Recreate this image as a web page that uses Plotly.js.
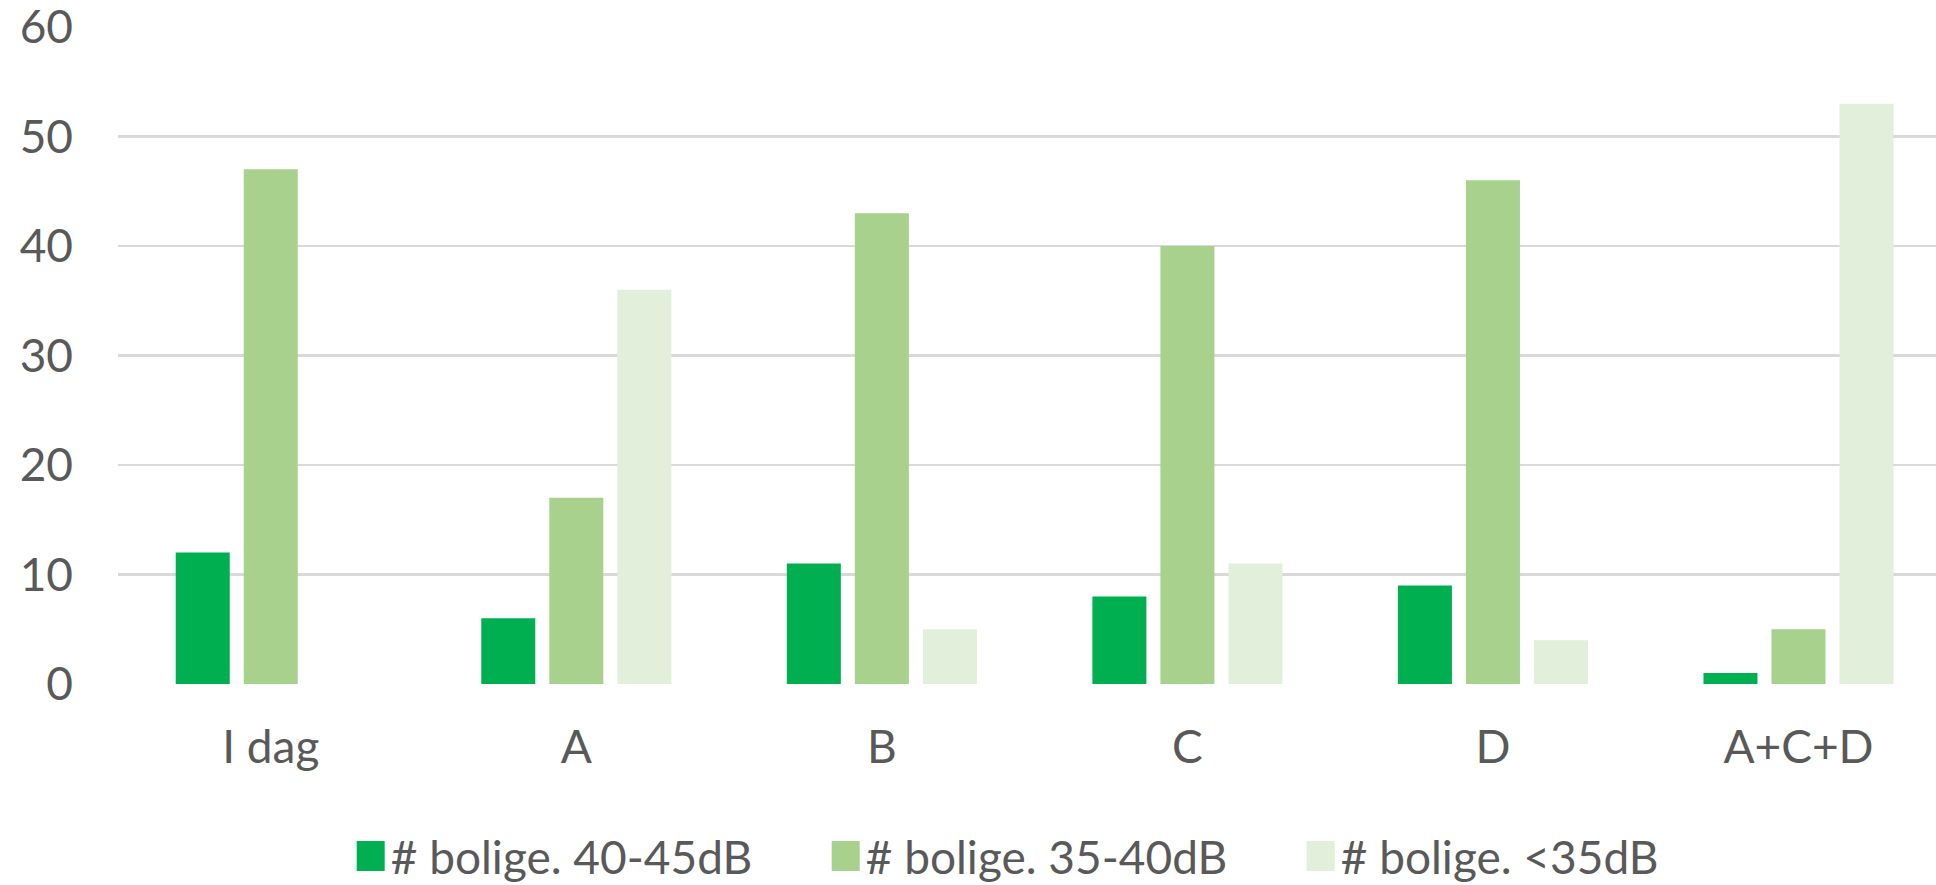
<!DOCTYPE html>
<html>
<head>
<meta charset="utf-8">
<script src="https://cdn.plot.ly/plotly-3.0.1.min.js"></script>
<style>
  html, body { margin: 0; padding: 0; background: #ffffff; overflow: hidden; }
  #chart { width: 1936px; height: 885px; }
</style>
</head>
<body>
<div id="chart"></div>
<script>
const categories = ["I dag", "A", "B", "C", "D", "A+C+D"];
const seriesNames = ["# bolige. 40-45dB", "# bolige. 35-40dB", "# bolige. <35dB"];
const values4045 = [12, 6, 11, 8, 9, 1];
const values3540 = [47, 17, 43, 40, 46, 5];
const valuesUnder35 = [0, 36, 5, 11, 4, 53];
const yTicks = [0, 10, 20, 30, 40, 50, 60];

const colors = ["#00B050", "#A9D18E", "#E2EFDA"];
const seriesValues = [values4045, values3540, valuesUnder35];

const traces = seriesValues.map((vals, i) => ({
  type: "bar",
  name: seriesNames[i],
  x: categories,
  y: vals,
  marker: { color: colors[i], line: { width: 0 } },
  hoverinfo: "x+y+name"
}));

const fontFamily = "Lato, 'Open Sans', sans-serif";

const layout = {
  width: 1936,
  height: 885,
  paper_bgcolor: "#ffffff",
  plot_bgcolor: "#ffffff",
  margin: { l: 118, r: 0, t: 27, b: 201, pad: 0, autoexpand: false },
  barmode: "group",
  bargap: 0.332,
  bargroupgap: 0.206,
  showlegend: true,
  legend: {
    orientation: "h",
    x: 0.128,
    xanchor: "left",
    y: -0.262,
    yanchor: "middle",
    font: { family: fontFamily, size: 46, color: "#595959" },
    itemwidth: 30,
    entrywidth: 430,
    entrywidthmode: "pixels",
    traceorder: "normal"
  },
  xaxis: {
    type: "category",
    range: [-0.5, 5.45],
    showgrid: false,
    zeroline: false,
    showline: false,
    ticks: "",
    ticklabelstandoff: 32,
    automargin: false,
    tickfont: { family: fontFamily, size: 46, color: "#595959" }
  },
  yaxis: {
    range: [0, 60],
    tickvals: yTicks,
    ticktext: yTicks.map(String),
    showgrid: true,
    gridcolor: "#D9D9D9",
    gridwidth: 2.5,
    zeroline: false,
    showline: false,
    ticks: "",
    ticklabelstandoff: 44,
    ticklabeloverflow: "allow",
    automargin: false,
    tickfont: { family: fontFamily, size: 46, color: "#595959" }
  },
  font: { family: fontFamily, color: "#595959" }
};

Plotly.newPlot("chart", traces, layout, { displayModeBar: false, staticPlot: true }).then(() => {
  // enlarge legend swatches to match the reference's square markers
  document.querySelectorAll("#chart .legend .legendpoints path").forEach(p => {
    p.setAttribute("d", "M14,15H-14V-15H14Z");
  });
});
</script>
</body>
</html>
